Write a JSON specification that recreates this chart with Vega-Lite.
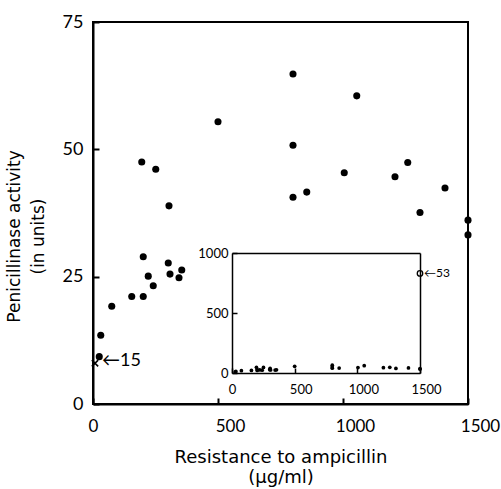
{
  "$schema": "https://vega.github.io/schema/vega-lite/v6.json",
  "width": 375,
  "height": 382,
  "autosize": {"type": "none"},
  "padding": {"left": 93, "top": 22, "right": 33, "bottom": 85},
  "background": "white",
  "config": {
    "font": "Lato",
    "view": {"stroke": "black", "strokeWidth": 2},
    "axis": {"domainColor": "black", "tickColor": "black", "labelColor": "black", "titleColor": "black", "grid": false, "titleFontWeight": "normal", "format": "d"}
  },
  "datasets": {
    "strains": [
      {"resistance": 500, "activity": 55.4},
      {"resistance": 195, "activity": 47.5},
      {"resistance": 251, "activity": 46.1},
      {"resistance": 304, "activity": 38.9},
      {"resistance": 201, "activity": 28.9},
      {"resistance": 800, "activity": 64.8},
      {"resistance": 1055, "activity": 60.5},
      {"resistance": 800, "activity": 50.8},
      {"resistance": 1005, "activity": 45.4},
      {"resistance": 1259, "activity": 47.4},
      {"resistance": 1208, "activity": 44.6},
      {"resistance": 800, "activity": 40.6},
      {"resistance": 855, "activity": 41.6},
      {"resistance": 1408, "activity": 42.4},
      {"resistance": 1308, "activity": 37.6},
      {"resistance": 1500, "activity": 36.1},
      {"resistance": 1500, "activity": 33.2},
      {"resistance": 301, "activity": 27.7},
      {"resistance": 355, "activity": 26.3},
      {"resistance": 221, "activity": 25.1},
      {"resistance": 308, "activity": 25.5},
      {"resistance": 344, "activity": 24.8},
      {"resistance": 241, "activity": 23.2},
      {"resistance": 155, "activity": 21.1},
      {"resistance": 201, "activity": 21.1},
      {"resistance": 75, "activity": 19.2},
      {"resistance": 31, "activity": 13.5},
      {"resistance": 25, "activity": 9.3}
    ],
    "strain15": [{"resistance": 8, "activity": 8.0, "label": "←15"}],
    "strain53": [{"resistance": 1500, "activity": 830, "label": "←53"}]
  },
  "layer": [
    {
      "layer": [
        {
          "data": {"name": "strains"},
          "mark": {"type": "point", "filled": true, "color": "black", "opacity": 1, "size": 50},
          "encoding": {
            "x": {
              "field": "resistance", "type": "quantitative",
              "scale": {"domain": [0, 1500], "nice": false, "zero": false},
              "axis": {
                "orient": "bottom", "values": [0, 500, 1000, 1500], "format": "d", "domainWidth": 2, "tickSize": -6, "tickWidth": 2,
                "labelFontSize": 17, "labelPadding": 20, "labelFlush": false,
                "labelOffset": {"condition": {"test": "datum.value > 0", "value": 12}, "value": 0},
                "title": ["Resistance to ampicillin", "(μg/ml)"], "titleFont": "DejaVu Sans", "titleFontSize": 18, "titleLineHeight": 20,
                "titleBaseline": "top", "titleY": 44
              }
            },
            "y": {
              "field": "activity", "type": "quantitative",
              "scale": {"domain": [0, 75], "nice": false, "zero": false},
              "axis": {
                "orient": "left", "values": [0, 25, 50, 75], "format": "d", "domainWidth": 2, "tickSize": -6, "tickWidth": 2,
                "labelFontSize": 18, "labelPadding": 16, "labelFlush": false,
                "title": ["Penicillinase activity", "(in units)"], "titleFont": "DejaVu Sans", "titleFontSize": 17, "titleLineHeight": 24,
                "titleAngle": 270, "titleBaseline": "top", "titleAlign": "center", "titleX": -87, "titleY": 214
              }
            }
          }
        },
        {
          "data": {"name": "strain15"},
          "mark": {"type": "point", "shape": "M-1,-1L1,1M-1,1L1,-1", "filled": false, "stroke": "black", "strokeWidth": 1.6, "size": 40, "opacity": 1},
          "encoding": {
            "x": {"field": "resistance", "type": "quantitative"},
            "y": {"field": "activity", "type": "quantitative"}
          }
        },
        {
          "data": {"name": "strain15"},
          "mark": {"type": "text", "align": "left", "baseline": "middle", "dx": 7, "dy": -2, "fontSize": 18, "color": "black"},
          "encoding": {
            "x": {"field": "resistance", "type": "quantitative"},
            "y": {"field": "activity", "type": "quantitative"},
            "text": {"field": "label"}
          }
        }
      ]
    },
    {
      "data": {"name": "strains"},
      "mark": {"type": "point", "filled": true, "color": "black", "opacity": 1, "size": 14},
      "encoding": {
        "x": {
          "field": "resistance", "type": "quantitative",
          "scale": {"domain": [0, 1500], "range": [139, 327], "nice": false, "zero": false},
          "axis": {
            "orient": "bottom", "offset": -31, "values": [0, 500, 1000, 1500], "format": "d", "domainWidth": 1.5, "tickSize": -5, "tickWidth": 1.5,
            "labelFontSize": 13, "labelPadding": 15, "labelFlush": false,
            "labelOffset": {"condition": {"test": "datum.value > 0", "value": 6}, "value": 0},
            "title": null
          }
        },
        "y": {
          "field": "activity", "type": "quantitative",
          "scale": {"domain": [0, 1000], "range": [351, 231], "nice": false, "zero": false},
          "axis": {
            "orient": "left", "offset": -139, "values": [0, 500, 1000], "format": "d", "domainWidth": 1.5, "tickSize": -5, "tickWidth": 1.5,
            "labelFontSize": 13, "labelPadding": 9, "labelFlush": false,
            "title": null
          }
        }
      }
    },
    {
      "data": {"name": "strain53"},
      "layer": [
        {
          "mark": {"type": "point", "filled": false, "stroke": "black", "strokeWidth": 1.3, "size": 30, "opacity": 1},
          "encoding": {
            "x": {
              "field": "resistance", "type": "quantitative",
              "scale": {"domain": [0, 1500], "range": [139, 327], "nice": false, "zero": false},
              "axis": {"orient": "top", "offset": -231, "domainWidth": 1.5, "ticks": false, "labels": false, "title": null}
            },
            "y": {
              "field": "activity", "type": "quantitative",
              "scale": {"domain": [0, 1000], "range": [351, 231], "nice": false, "zero": false},
              "axis": {"orient": "right", "offset": -48, "domainWidth": 1.5, "ticks": false, "labels": false, "title": null}
            }
          }
        },
        {
          "mark": {"type": "text", "align": "left", "baseline": "middle", "dx": 4, "fontSize": 12, "color": "black"},
          "encoding": {
            "x": {"field": "resistance", "type": "quantitative"},
            "y": {"field": "activity", "type": "quantitative"},
            "text": {"field": "label"}
          }
        }
      ]
    }
  ],
  "resolve": {
    "scale": {"x": "independent", "y": "independent"},
    "axis": {"x": "independent", "y": "independent"}
  }
}
